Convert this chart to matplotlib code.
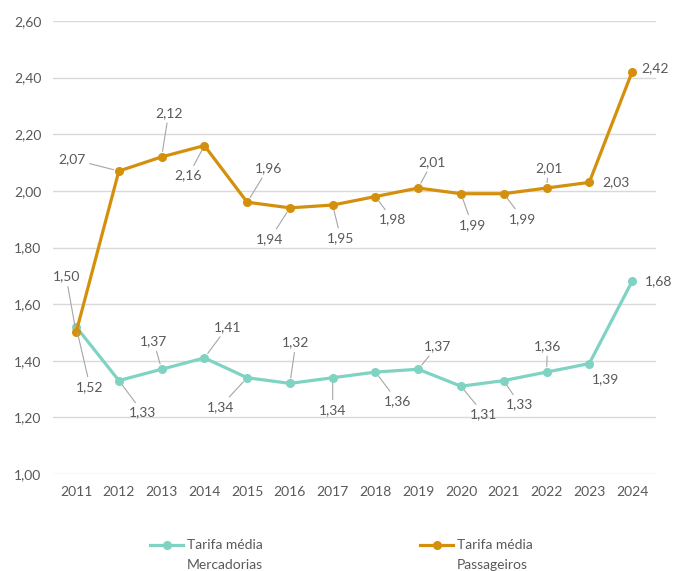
import numpy as np
import matplotlib.pyplot as plt
from matplotlib.lines import Line2D

# ---- data ----
years = ["2011", "2012", "2013", "2014", "2015", "2016", "2017",
         "2018", "2019", "2020", "2021", "2022", "2023", "2024"]
passageiros = [1.50, 2.07, 2.12, 2.16, 1.96, 1.94, 1.95,
               1.98, 2.01, 1.99, 1.99, 2.01, 2.03, 2.42]
mercadorias = [1.52, 1.33, 1.37, 1.41, 1.34, 1.32, 1.34,
               1.36, 1.37, 1.31, 1.33, 1.36, 1.39, 1.68]
yticks = [1.00, 1.20, 1.40, 1.60, 1.80, 2.00, 2.20, 2.40, 2.60]
series_names = [("Tarifa média", "Mercadorias"), ("Tarifa média", "Passageiros")]

# label offsets in pixels (dx right, dy down), leader line yes/no
off_pass = [(-10, -56), (-47, -12), (7, -44), (-16, 30), (21, -34), (-20, 31),
            (8, 33), (17, 23), (14, -26), (11, 31), (19, 25), (2, -20),
            (27, 0), (23, -4)]
off_merc = [(14, 60), (24, 32), (-8, -28), (23, -31), (-27, 29), (6, -41),
            (0, 32), (22, 29), (19, -23), (23, 28), (16, 24), (1, -26),
            (16, 16), (26, 0)]
leader = [True] * 12 + [False, False]

ORANGE = "#D4900C"
TEAL = "#7FD3C3"
GREY_TXT = "#595959"

plt.rcParams["font.family"] = ["Lato", "DejaVu Sans"]

W, H = 674, 571
fig = plt.figure(figsize=(W / 100, H / 100), dpi=100)
ax = fig.add_axes([53 / W, 1 - 474 / H, 603 / W, 453 / H])

x = np.arange(len(years))

ax.plot(x, mercadorias, "-o", color=TEAL, lw=2.3, ms=5.5, zorder=3)
ax.plot(x, passageiros, "-o", color=ORANGE, lw=2.3, ms=5.5, zorder=4)


def fmt(v):
    return f"{v:.2f}".replace(".", ",")


for series, offs in [(passageiros, off_pass), (mercadorias, off_merc)]:
    for i, (v, (dx, dy)) in enumerate(zip(series, offs)):
        ap = None
        if leader[i]:
            ap = dict(arrowstyle="-", color="#A6A6A6", lw=0.8,
                      shrinkA=1, shrinkB=4)
        ax.annotate(fmt(v), xy=(x[i], v), xytext=(dx, -dy),
                    textcoords="offset pixels", ha="center", va="center",
                    fontsize=10, color=GREY_TXT, arrowprops=ap, zorder=5)

ax.set_xlim(-0.54, 13.56)
ax.set_ylim(1.0, 2.6)
ax.set_yticks(yticks)
ax.set_yticklabels([fmt(t) for t in yticks])
ax.set_xticks(x)
ax.set_xticklabels(years)
ax.tick_params(length=0, labelsize=10, colors=GREY_TXT)
ax.tick_params(axis="x", pad=9)
ax.tick_params(axis="y", pad=8.5)
ax.grid(axis="y", color="#D9D9D9", lw=1)
ax.set_axisbelow(True)
for s in ax.spines.values():
    s.set_visible(False)

# ---- legend (handle aligned with first text line) ----
for (l1, l2), col, x0 in zip(series_names, [TEAL, ORANGE], [150, 420]):
    y1 = 1 - 545 / H
    y2 = 1 - 565 / H
    fig.add_artist(Line2D([x0 / W, (x0 + 33) / W], [y1, y1], color=col,
                          lw=2.3, transform=fig.transFigure))
    fig.add_artist(Line2D([(x0 + 16.5) / W], [y1], color=col, marker="o",
                          ms=5.5, transform=fig.transFigure))
    fig.text((x0 + 37) / W, y1, l1, fontsize=10, color=GREY_TXT, va="center")
    fig.text((x0 + 37) / W, y2, l2, fontsize=10, color=GREY_TXT, va="center")

fig.savefig("out.png", dpi=100)
